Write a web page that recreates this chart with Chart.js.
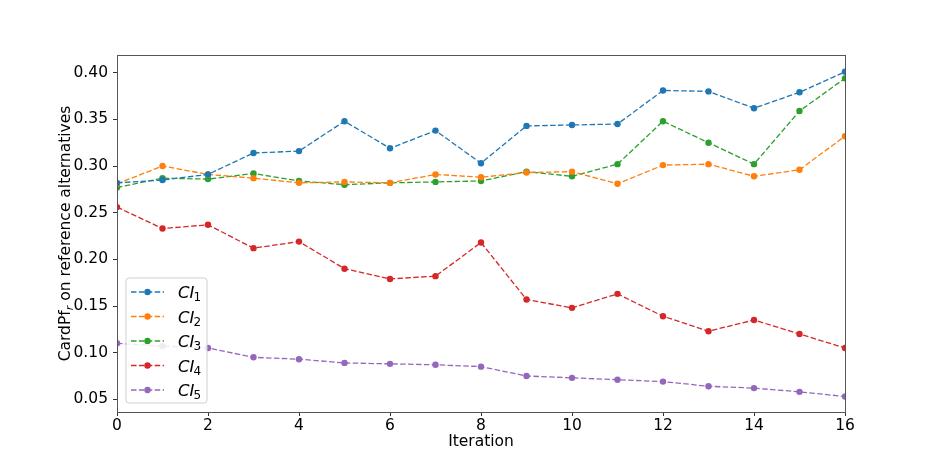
<!DOCTYPE html>
<html>
<head>
<meta charset="utf-8">
<script src="https://cdn.jsdelivr.net/npm/chart.js@4/dist/chart.umd.min.js"></script>
<style>
html,body{margin:0;padding:0;background:#fff;}
#c{display:block;}
</style>
</head>
<body>
<canvas id="c" width="938" height="463"></canvas>
<script>
const iterations = [0,1,2,3,4,5,6,7,8,9,10,11,12,13,14,15,16];
const ci1 = [0.282,0.285,0.291,0.314,0.316,0.348,0.319,0.338,0.303,0.343,0.344,0.345,0.381,0.380,0.362,0.379,0.401];
const ci2 = [0.281,0.300,0.291,0.287,0.282,0.283,0.282,0.291,0.288,0.293,0.294,0.281,0.301,0.302,0.289,0.296,0.332];
const ci3 = [0.277,0.287,0.286,0.292,0.284,0.280,0.282,0.283,0.284,0.294,0.289,0.302,0.348,0.325,0.302,0.359,0.394];
const ci4 = [0.256,0.233,0.237,0.212,0.219,0.190,0.179,0.182,0.218,0.157,0.148,0.163,0.139,0.123,0.135,0.120,0.105];
const ci5 = [0.110,0.107,0.105,0.095,0.093,0.089,0.088,0.087,0.085,0.075,0.073,0.071,0.069,0.064,0.062,0.058,0.053];
const seriesNames = ['1','2','3','4','5'];
const colors = ['#1f77b4','#ff7f0e','#2ca02c','#d62728','#9467bd'];
const xTicks = [0,2,4,6,8,10,12,14,16];
const yTicks = [0.05,0.10,0.15,0.20,0.25,0.30,0.35,0.40];
const xTitle = 'Iteration';
const yTitleParts = ['CardPf','r',' on reference alternatives'];

const FONT = '"DejaVu Sans", sans-serif';
const allSeries = [ci1,ci2,ci3,ci4,ci5];

const datasets = allSeries.map((s,i)=>({
  label: 'CI' + seriesNames[i],
  data: s.map((v,j)=>({x: iterations[j], y: v})),
  borderColor: colors[i],
  backgroundColor: colors[i],
  pointBackgroundColor: colors[i],
  pointBorderWidth: 0,
  pointRadius: 3.2,
  borderWidth: 1.3,
  borderDash: [5.5, 2.4],
  tension: 0,
  fill: false
}));

const framePlugin = {
  id: 'frame',
  afterDraw(chart){
    const {ctx, chartArea: a} = chart;
    ctx.save();
    ctx.strokeStyle = '#555';
    ctx.lineWidth = 1;
    ctx.strokeRect(Math.round(a.left)+0.5, Math.round(a.top)+0.5, Math.round(a.right-a.left), Math.round(a.bottom-a.top));
    // legend
    const lx = a.left + 9, ly = a.top + 223, lw = 81, lh = 125;
    ctx.fillStyle = 'rgba(255,255,255,0.85)';
    ctx.strokeStyle = '#d0d0d0';
    ctx.lineWidth = 1;
    const r = 3;
    ctx.beginPath();
    ctx.moveTo(lx+r, ly);
    ctx.lineTo(lx+lw-r, ly); ctx.quadraticCurveTo(lx+lw, ly, lx+lw, ly+r);
    ctx.lineTo(lx+lw, ly+lh-r); ctx.quadraticCurveTo(lx+lw, ly+lh, lx+lw-r, ly+lh);
    ctx.lineTo(lx+r, ly+lh); ctx.quadraticCurveTo(lx, ly+lh, lx, ly+lh-r);
    ctx.lineTo(lx, ly+r); ctx.quadraticCurveTo(lx, ly, lx+r, ly);
    ctx.closePath();
    ctx.fill(); ctx.stroke();
    seriesNames.forEach((n,i)=>{
      const y = ly + 14 + i*24.5;
      ctx.strokeStyle = colors[i];
      ctx.lineWidth = 1.3;
      ctx.setLineDash([5.5,2.4]);
      ctx.beginPath(); ctx.moveTo(lx+5, y); ctx.lineTo(lx+38, y); ctx.stroke();
      ctx.setLineDash([]);
      ctx.fillStyle = colors[i];
      ctx.beginPath(); ctx.arc(lx+21.5, y, 3.2, 0, Math.PI*2); ctx.fill();
      ctx.fillStyle = '#000';
      ctx.textBaseline = 'alphabetic';
      ctx.textAlign = 'left';
      ctx.font = 'italic 16.5px ' + FONT;
      ctx.fillText('CI', lx+52, y+6);
      const w = ctx.measureText('CI').width;
      ctx.font = '12px ' + FONT;
      ctx.fillText(n, lx+52+w-1, y+9);
    });
    // x title
    ctx.fillStyle = '#000';
    ctx.font = '15.5px ' + FONT;
    ctx.textAlign = 'center';
    ctx.textBaseline = 'middle';
    ctx.fillText(xTitle, (a.left+a.right)/2, a.bottom + 30);
    // y title
    ctx.translate(66, (a.top+a.bottom)/2);
    ctx.rotate(-Math.PI/2);
    ctx.textAlign = 'left';
    ctx.textBaseline = 'middle';
    ctx.font = '15.5px ' + FONT;
    const w0 = ctx.measureText(yTitleParts[0]).width;
    ctx.font = 'italic 11px ' + FONT;
    const w1 = ctx.measureText(yTitleParts[1]).width;
    ctx.font = '15.5px ' + FONT;
    const w2 = ctx.measureText(yTitleParts[2]).width;
    let sx = -(w0+w1+w2)/2;
    ctx.fillText(yTitleParts[0], sx, 0);
    ctx.font = 'italic 11px ' + FONT;
    ctx.fillText(yTitleParts[1], sx+w0, 4);
    ctx.font = '15.5px ' + FONT;
    ctx.fillText(yTitleParts[2], sx+w0+w1, 0);
    ctx.restore();
  }
};

new Chart(document.getElementById('c'), {
  type: 'line',
  data: { datasets },
  options: {
    responsive: false,
    animation: false,
    devicePixelRatio: 1,
    layout: { padding: { top: 55, right: 93, left: 0, bottom: 0 } },
    plugins: { legend: { display: false }, tooltip: { enabled: false } },
    scales: {
      x: {
        type: 'linear',
        min: 0, max: 16,
        afterBuildTicks: s => { s.ticks = xTicks.map(v=>({value:v})); },
        afterFit: s => { s.height = 51; },
        grid: { drawOnChartArea: false, drawTicks: true, tickLength: 4, color: '#333', tickWidth: 1 },
        border: { display: true, color: '#555', width: 1 },
        ticks: { color: '#000', font: { family: FONT, size: 15.5 }, padding: 1, maxRotation: 0, autoSkip: false,
                 callback: v => String(v) }
      },
      y: {
        type: 'linear',
        min: 0.0364, max: 0.419,
        afterBuildTicks: s => { s.ticks = yTicks.map(v=>({value:v})); },
        afterFit: s => { s.width = 117; },
        grid: { drawOnChartArea: false, drawTicks: true, tickLength: 4, color: '#333', tickWidth: 1 },
        border: { display: true, color: '#555', width: 1 },
        ticks: { color: '#000', font: { family: FONT, size: 15.5 }, padding: 5, autoSkip: false,
                 callback: v => v.toFixed(2) }
      }
    }
  },
  plugins: [framePlugin]
});
</script>
</body>
</html>
